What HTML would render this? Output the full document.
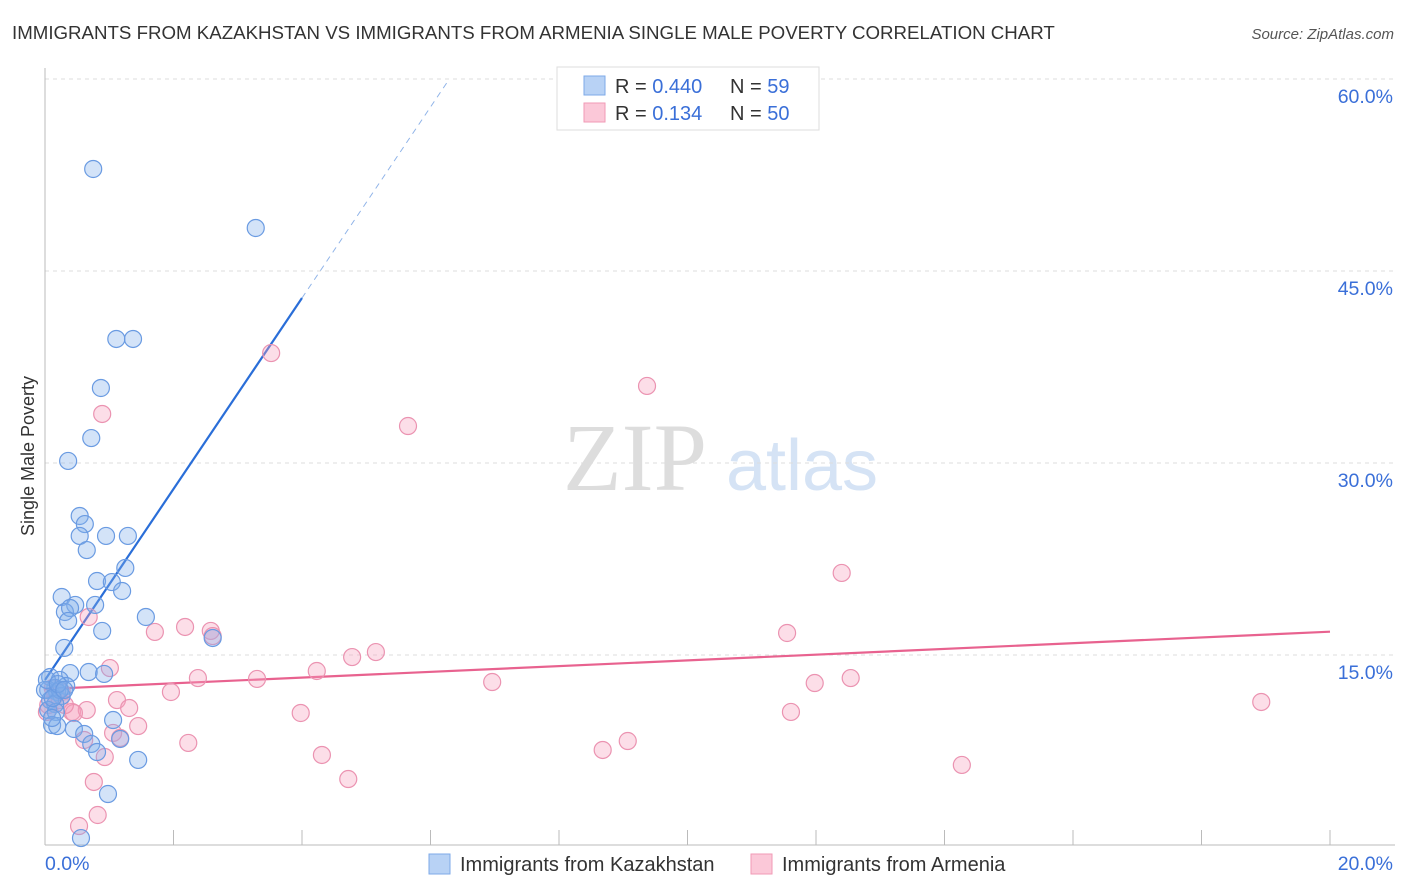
<!DOCTYPE html>
<html><head><meta charset="utf-8"><style>
body{margin:0;background:#fff;font-family:"Liberation Sans",sans-serif}
svg{display:block}
</style></head><body>
<svg id="c" width="1406" height="892" xmlns="http://www.w3.org/2000/svg">
<text x="12" y="39" font-size="18.7" fill="#333">IMMIGRANTS FROM KAZAKHSTAN VS IMMIGRANTS FROM ARMENIA SINGLE MALE POVERTY CORRELATION CHART</text>
<text x="1394" y="39" font-size="15" fill="#555" font-style="italic" text-anchor="end">Source: ZipAtlas.com</text>
<text transform="translate(34,456) rotate(-90)" font-size="18" fill="#333" text-anchor="middle">Single Male Poverty</text>
<g>
<text x="635" y="490" font-size="96" fill="#ddd" font-family="Liberation Serif,serif" text-anchor="middle">ZIP</text>
<text x="802" y="490" font-size="72" fill="#d5e3f5" text-anchor="middle">atlas</text>
</g>
<g id="grid"></g><g id="axes"></g><g id="lines"></g><g id="pts"></g>
<g>
<rect x="557" y="67" width="262" height="63" fill="#fff" stroke="#ddd"/>
<rect x="584" y="76" width="21" height="19" fill="#b8d2f5" stroke="#7eaae8"/>
<rect x="584" y="103" width="21" height="19" fill="#fbc8d8" stroke="#f09ab6"/>
<text x="615" y="93" font-size="20" fill="#333">R = <tspan fill="#3a6fd8">0.440</tspan></text>
<text x="730" y="93" font-size="20" fill="#333">N = <tspan fill="#3a6fd8"> 59</tspan></text>
<text x="615" y="120" font-size="20" fill="#333">R = <tspan fill="#3a6fd8"> 0.134</tspan></text>
<text x="730" y="120" font-size="20" fill="#333">N = <tspan fill="#3a6fd8">50</tspan></text>
</g>
<g>
<rect x="429" y="854" width="21" height="20" fill="#b8d2f5" stroke="#7eaae8"/>
<text x="460" y="871" font-size="20" fill="#333">Immigrants from Kazakhstan</text>
<rect x="751" y="854" width="21" height="20" fill="#fbc8d8" stroke="#f09ab6"/>
<text x="782" y="871" font-size="20" fill="#333">Immigrants from Armenia</text>
</g>
</svg>
<script>
const blueX=[0.75,3.28,1.11,1.37,0.87,0.72,0.36,0.54,0.62,0.54,0.95,1.29,0.65,1.25,0.81,1.04,1.20,0.26,0.47,0.78,0.31,0.39,0.36,1.57,0.89,2.61,0.30,0.08,0.39,0.68,0.92,0.23,0.16,0.33,0.05,0.19,0.26,0.08,0.16,0.05,0.17,1.06,0.11,0.19,0.45,0.61,0.72,0.81,1.45,0.98,0.56,0.00,0.03,0.23,0.12,0.20,0.30,0.11,1.17];
const blueY=[52.97,48.36,39.69,39.69,35.86,31.95,30.16,25.86,25.23,24.30,24.30,24.30,23.20,21.80,20.78,20.70,20.00,19.53,18.91,18.91,18.36,18.67,17.66,17.97,16.88,16.33,15.55,13.28,13.59,13.67,13.52,13.05,12.42,12.58,12.27,12.11,11.80,11.48,11.17,10.70,10.55,9.92,9.53,9.45,9.22,8.83,8.05,7.42,6.80,4.14,0.70,12.27,13.05,12.27,11.64,12.73,12.27,10.08,8.44];
const pinkX=[3.52,9.37,5.65,0.89,12.40,0.68,1.71,2.18,2.58,2.61,11.55,5.15,4.78,4.23,2.38,3.30,1.01,6.96,11.98,12.54,1.96,1.12,1.31,0.16,0.26,0.05,0.42,0.65,0.45,3.98,11.61,18.93,1.45,1.06,1.17,0.61,2.23,4.31,8.68,9.07,0.93,4.72,14.27,0.76,0.82,0.53,0.12,0.23,0.31,0.03];
const pinkY=[38.59,36.02,32.89,33.83,21.41,17.97,16.80,17.19,16.88,16.48,16.72,15.23,14.84,13.75,13.20,13.13,13.98,12.89,12.81,13.20,12.11,11.48,10.86,11.88,12.11,11.09,10.55,10.70,10.47,10.47,10.55,11.33,9.45,8.91,8.52,8.36,8.13,7.19,7.58,8.28,7.03,5.31,6.41,5.08,2.50,1.64,12.42,11.48,11.09,10.55];
const yTicks=[15,30,45,60];
const yTickLabels=["15.0%","30.0%","45.0%","60.0%"];
const blueTrend=[13.05,7.46];
const pinkTrend=[12.34,0.224];
const NS="http://www.w3.org/2000/svg";
const sx=v=>45+v*64.25, sy=v=>847-v*12.8;
function mk(p,t,a){const e=document.createElementNS(NS,t);for(const k in a)e.setAttribute(k,a[k]);document.getElementById(p).appendChild(e);return e;}
yTicks.forEach((t,i)=>{
 const g=mk('grid','line',{x1:45,x2:1395,y1:sy(t),y2:sy(t),stroke:'#ddd','stroke-dasharray':'4,4'});
 
 
 const l=mk('grid','text',{x:1393,y:sy(t)+24,'font-size':19.5,fill:'#3a6fd8','text-anchor':'end'});
 l.textContent=yTickLabels[i];
 
 
});
const ax=mk('axes','line',{x1:45,x2:45,y1:68,y2:845,stroke:'#bbb'});


const bx=mk('axes','line',{x1:45,x2:1395,y1:845,y2:845,stroke:'#bbb'});


for(let i=0;i<=10;i++){const t=mk('axes','line',{x1:sx(i*2),x2:sx(i*2),y1:830,y2:845,stroke:'#bbb'});
 
 }
const xl0=mk('axes','text',{x:45,y:870,'font-size':19.5,fill:'#3a6fd8'});xl0.textContent='0.0%';


const xl1=mk('axes','text',{x:1393,y:870,'font-size':19.5,fill:'#3a6fd8','text-anchor':'end'});xl1.textContent='20.0%';


const xEnd=(60-blueTrend[0])/blueTrend[1];
const bl=mk('lines','line',{x1:sx(0),y1:sy(blueTrend[0]),x2:sx(4),y2:sy(blueTrend[0]+4*blueTrend[1]),stroke:'#2a6ed8','stroke-width':2.2});


const bd=mk('lines','line',{x1:sx(4),y1:sy(blueTrend[0]+4*blueTrend[1]),x2:sx(xEnd),y2:sy(60),stroke:'#8fb3e8','stroke-width':1,'stroke-dasharray':'6,5'});


const pl=mk('lines','line',{x1:sx(0),y1:sy(pinkTrend[0]),x2:sx(20),y2:sy(pinkTrend[0]+20*pinkTrend[1]),stroke:'#e8628f','stroke-width':2.2});


pinkX.forEach((x,i)=>{const c=mk('pts','circle',{cx:sx(x),cy:sy(pinkY[i]),r:8.5,fill:'rgba(245,160,190,0.35)',stroke:'#eb93b1','stroke-width':1.2});
 
 });
blueX.forEach((x,i)=>{const c=mk('pts','circle',{cx:sx(x),cy:sy(blueY[i]),r:8.5,fill:'rgba(130,175,235,0.35)',stroke:'#6a9be2','stroke-width':1.2});
 
 });
</script>
</body></html>
